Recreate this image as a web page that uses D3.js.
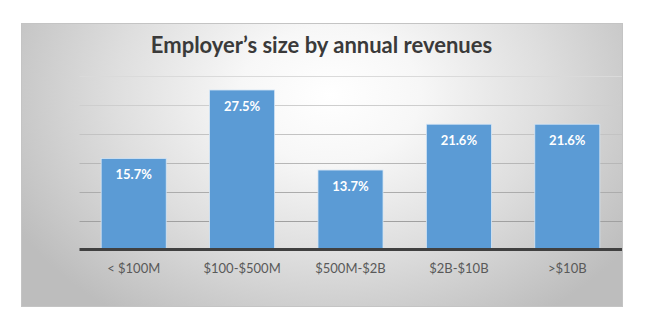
<!DOCTYPE html>
<html>
<head>
<meta charset="utf-8">
<script src="https://cdn.jsdelivr.net/npm/d3@7"></script>
<style>
  html, body { margin: 0; padding: 0; background: #fff; }
  svg { display: block; }
</style>
</head>
<body>
<svg id="chart" width="647" height="334"></svg>
<script>
const title = "Employer\u2019s size by annual revenues";
const categories = ["< $100M", "$100-$500M", "$500M-$2B", "$2B-$10B", ">$10B"];
const values = [15.7, 27.5, 13.7, 21.6, 21.6];
const gridTicks = [0, 5, 10, 15, 20, 25, 30];

const svg = d3.select("#chart");
const box = { x: 21, y: 23, w: 601, h: 283 };

const defs = svg.append("defs");
const rg = defs.append("radialGradient")
  .attr("id", "bg").attr("gradientUnits", "userSpaceOnUse")
  .attr("cx", 330).attr("cy", 95).attr("r", 360)
  .attr("gradientTransform", "translate(330,95) scale(1,0.75) translate(-330,-95)");
rg.append("stop").attr("offset", "0").attr("stop-color", "#ffffff");
rg.append("stop").attr("offset", "0.25").attr("stop-color", "#f7f7f7");
rg.append("stop").attr("offset", "0.6").attr("stop-color", "#dedede");
rg.append("stop").attr("offset", "1").attr("stop-color", "#bdbdbd");

svg.append("rect")
  .attr("x", box.x + 0.5).attr("y", box.y + 0.5)
  .attr("width", box.w).attr("height", box.h)
  .attr("fill", "url(#bg)")
  .attr("stroke", "#c4c4c4").attr("stroke-width", 1);

const x = d3.scaleBand().domain(categories).range([79.5, 621.5])
  .paddingInner(0.4).paddingOuter(0.2);
const y = d3.scaleLinear().domain([0, 30]).range([249.5, 75.5]);

const gridColor = d3.scaleLinear().domain([30, 5]).range(["#dadada", "#a0a0a0"]);

// gridlines
svg.append("g").selectAll("line")
  .data(gridTicks.filter(d => d > 0))
  .join("line")
  .attr("x1", 79.5).attr("x2", box.x + box.w)
  .attr("y1", d => Math.round(y(d)) + 0.5).attr("y2", d => Math.round(y(d)) + 0.5)
  .attr("stroke", d => gridColor(d)).attr("stroke-width", 1);

// bars
svg.append("g").selectAll("rect")
  .data(values)
  .join("rect")
  .attr("x", (d, i) => x(categories[i]))
  .attr("y", d => y(d))
  .attr("width", x.bandwidth())
  .attr("height", d => y(0) - y(d))
  .attr("fill", "#5b9bd5")
  .attr("stroke", "#d6e6f5").attr("stroke-width", 0.8);

// value labels
svg.append("g").selectAll("text")
  .data(values)
  .join("text")
  .attr("x", (d, i) => x(categories[i]) + x.bandwidth() / 2)
  .attr("y", d => y(d) + 21)
  .attr("text-anchor", "middle")
  .attr("font-family", "Lato, 'Open Sans', sans-serif")
  .attr("font-weight", "bold")
  .attr("font-size", "13px")
  .attr("fill", "#ffffff")
  .text(d => d.toFixed(1) + "%");

// baseline axis
const xAxis = d3.axisBottom(x).tickSize(0).tickPadding(0);
const ax = svg.append("g").attr("transform", `translate(0,${y(0)})`).call(xAxis);
ax.select(".domain").attr("d", `M79.5,0H${box.x + box.w}`)
  .attr("stroke", "#404040").attr("stroke-width", 3);
ax.selectAll(".tick text")
  .attr("dy", 0).attr("y", 23.5)
  .attr("font-family", "Lato, 'Open Sans', sans-serif")
  .attr("font-size", "13px")
  .attr("fill", "#595959");

// title
svg.append("text")
  .attr("x", 321.5).attr("y", 53)
  .attr("text-anchor", "middle")
  .attr("font-family", "Lato, 'Open Sans', sans-serif")
  .attr("font-weight", "bold")
  .attr("font-size", "22px")
  .attr("fill", "#3a3a3a")
  .text(title);
</script>
</body>
</html>
